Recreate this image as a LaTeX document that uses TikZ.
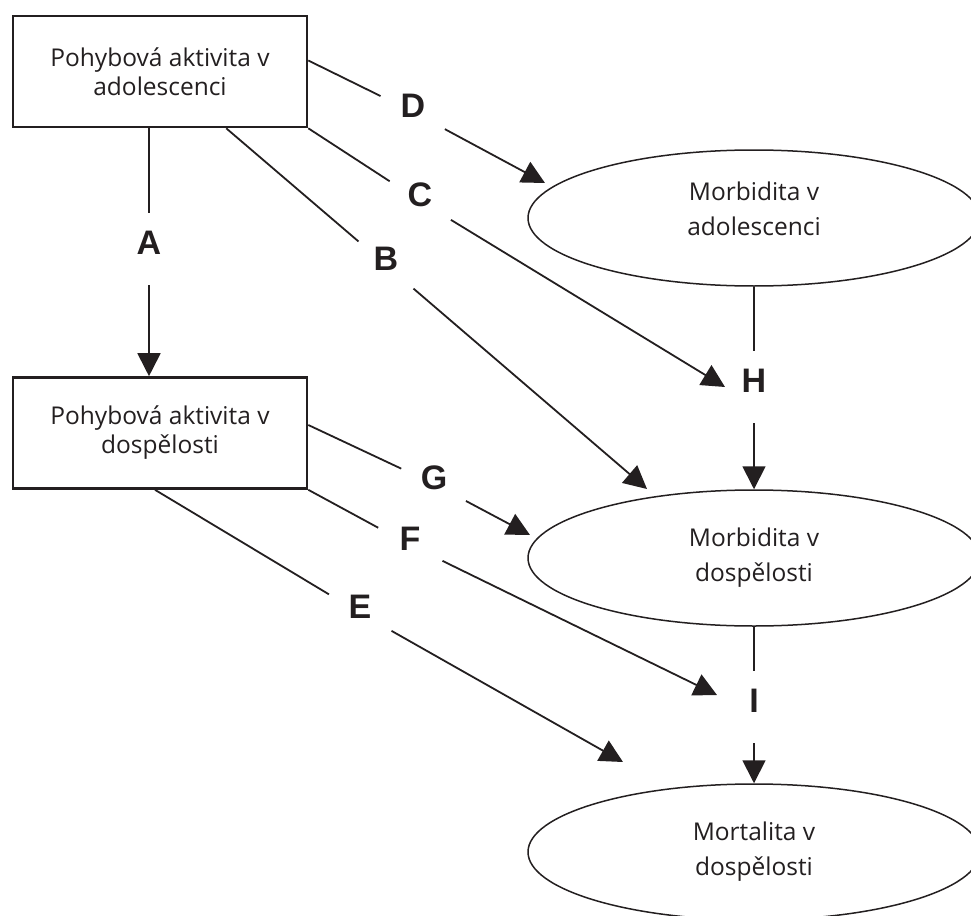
\documentclass[tikz,border=0pt]{standalone}
\usepackage{fontspec}
\setmainfont{Open Sans}
\newfontfamily\lblfont{Liberation Sans}
\usetikzlibrary{arrows.meta,shapes.geometric}
\definecolor{ink}{HTML}{231F20}
\begin{document}
\begin{tikzpicture}[x=1pt,y=-1pt,
  every node/.style={text=ink},
  box/.style={draw=ink, line width=2.6pt, minimum width=294pt, minimum height=111pt, inner sep=0pt, align=center, font=\fontsize{24.5}{29}\selectfont},
  ell/.style={ellipse, draw=ink, line width=1.5pt, minimum width=452pt, minimum height=136pt, inner sep=0pt, align=center, font=\fontsize{24.5}{35}\selectfont},
  lbl/.style={circle, minimum size=72pt, inner sep=0pt, font=\lblfont\bfseries\fontsize{34}{34}\selectfont},
  conn/.style={draw=ink, line width=1.8pt},
  arr/.style={conn, -{Triangle[length=23pt,width=23pt]}}
]
\useasboundingbox (0,0) rectangle (971,915);
\newcommand{\lift}[2]{\raisebox{#1}[\height][\depth]{#2}}
% boxes and ellipses
\node[box] (pa1) at (160,71.5) {Pohybová aktivita v\\adolescenci};
\node[box] (pa2) at (160,433) {Pohybová aktivita v\\dospělosti};
\node[ell] (e1) at (754,218) {\lift{7pt}{\begin{tabular}{@{}c@{}}Morbidita v\\adolescenci\end{tabular}}};
\node[ell] (e2) at (754,558) {Morbidita v\\dospělosti};
\node[ell] (e3) at (754,852) {Mortalita v\\dospělosti};
% labels
\node[lbl] (lA) at (149,249) {\lift{6pt}{A}};
\node[lbl] (lB) at (386,265) {\lift{6pt}{B}};
\node[lbl] (lC) at (420,201) {\lift{6pt}{C}};
\node[lbl] (lD) at (413,112) {\lift{6pt}{D}};
\node[lbl] (lE) at (360,613) {\lift{6pt}{E}};
\node[lbl] (lF) at (410,545) {\lift{6pt}{F}};
\node[lbl] (lG) at (434,484) {\lift{6pt}{G}};
\node[lbl] (lH) at (754,387) {\lift{6pt}{H}};
\node[lbl] (lI) at (754,707) {\lift{6pt}{I}};
% arrow tips
\coordinate (tD) at (545,183);
\coordinate (tB) at (647,489);
\coordinate (tG) at (530,535);
\coordinate (tE) at (623,762);
\coordinate (tC) at (725,387);
\coordinate (tF) at (717,695);
% connectors
\draw[conn] (lA |- pa1.south) -- (lA);
\draw[arr] (lA) -- (lA |- pa2.north);
\draw[conn] (pa1) -- (lB);
\draw[arr] (lB) -- (tB);
\draw[conn] (pa1.south east) -- (lC);
\draw[arr] (lC) -- (tC);
\draw[conn] ([yshift=11pt]pa1.east) -- (lD);
\draw[arr] (lD) -- (tD);
\draw[conn] (e1) -- (lH);
\draw[arr] (lH) -- (e2.north);
\draw[conn] (e2) -- (lI);
\draw[arr] (lI) -- (e3.north);
\draw[conn] ([yshift=8pt]pa2.east) -- (lG);
\draw[arr] (lG) -- (tG);
\draw[conn] (pa2.south east) -- (lF);
\draw[arr] (lF) -- (tF);
\draw[conn] ([xshift=-5pt]pa2.south) -- (lE);
\draw[arr] (lE) -- (tE);
\end{tikzpicture}
\end{document}
